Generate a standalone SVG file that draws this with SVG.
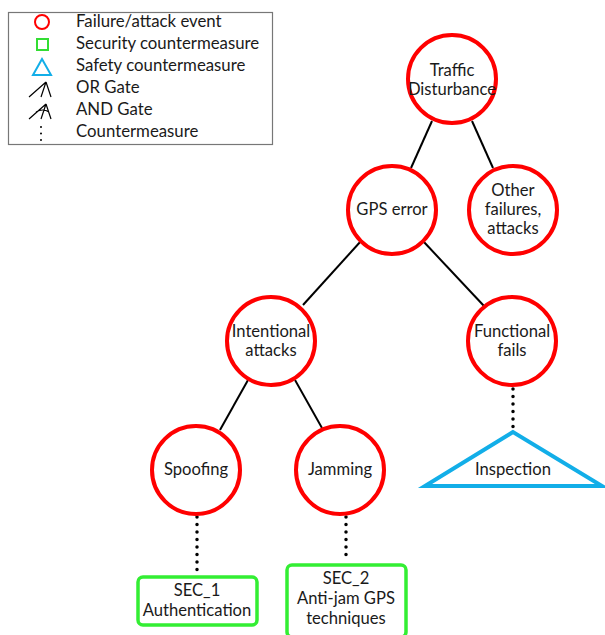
<svg xmlns="http://www.w3.org/2000/svg" width="605" height="635" viewBox="0 0 605 635">
  <style>
    text { font-family: Lato, "Open Sans", "Liberation Sans", sans-serif; fill: #1a1a1a; }
    .lbl { font-size: 16.6px; text-anchor: middle; }
    .leg { font-size: 16.8px; }
    .event { fill: #ffffff; stroke: #ff0000; stroke-width: 4; }
    .sec { fill: #ffffff; stroke: #33ee33; stroke-width: 3.5; }
    .safe { fill: #ffffff; stroke: #12aee8; stroke-width: 4; stroke-linejoin: miter; }
    .edge { stroke: #000000; stroke-width: 2; fill: none; }
    .cm { stroke: #000000; stroke-width: 3.5; stroke-linecap: round; stroke-dasharray: 0 7.5; fill: none; }
    .gate { stroke: #000000; stroke-width: 1.2; fill: none; }
  </style>
  <rect width="605" height="635" fill="#ffffff"/>

  <!-- legend -->
  <g id="legend">
    <rect x="8.5" y="12.5" width="264" height="132" fill="#ffffff" stroke="#777777" stroke-width="1.2"/>
    <circle cx="42" cy="22" r="7" fill="none" stroke="#ff0000" stroke-width="2"/>
    <rect x="37" y="39" width="11" height="11" fill="none" stroke="#33dd33" stroke-width="2"/>
    <polygon points="42,59 33,75 51,75" fill="none" stroke="#12aee8" stroke-width="2"/>
    <path class="gate" d="M46,82 L29,97 M46,82 L41,97 M46,82 L51,97"/>
    <path class="gate" d="M46,104 L29,119 M46,104 L41,119 M46,104 L51,119 M36,112 Q43,108 49,112"/>
    <path d="M41,127 L41,141" stroke="#000" stroke-width="2" stroke-linecap="round" stroke-dasharray="0 6.5" fill="none"/>
    <text class="leg" x="76" y="27">Failure/attack event</text>
    <text class="leg" x="76" y="49">Security countermeasure</text>
    <text class="leg" x="76" y="71">Safety countermeasure</text>
    <text class="leg" x="76" y="93">OR Gate</text>
    <text class="leg" x="76" y="115">AND Gate</text>
    <text class="leg" x="76" y="137">Countermeasure</text>
  </g>

  <!-- connectors -->
  <g id="connectors">
    <line class="edge" x1="432" y1="121" x2="411" y2="168"/>
    <line class="edge" x1="472" y1="121" x2="493" y2="168"/>
    <line class="edge" x1="361" y1="241" x2="303" y2="305"/>
    <line class="edge" x1="423" y1="241" x2="484" y2="306"/>
    <line class="edge" x1="248" y1="380" x2="220" y2="430"/>
    <line class="edge" x1="295" y1="380" x2="322" y2="428"/>
    <line class="cm" x1="197" y1="517" x2="197" y2="574"/>
    <line class="cm" x1="346" y1="517" x2="346" y2="562"/>
    <line class="cm" x1="513" y1="389" x2="513" y2="428"/>
  </g>

  <g id="traffic-disturbance">
    <circle class="event" cx="452" cy="79" r="44"/>
    <text class="lbl" x="452" y="76">Traffic</text>
    <text class="lbl" x="452" y="95">Disturbance</text>
  </g>
  <g id="gps-error">
    <circle class="event" cx="392" cy="210" r="44"/>
    <text class="lbl" x="392" y="215">GPS error</text>
  </g>
  <g id="other-failures">
    <circle class="event" cx="513" cy="210" r="44"/>
    <text class="lbl" x="513" y="196">Other</text>
    <text class="lbl" x="513" y="215">failures,</text>
    <text class="lbl" x="513" y="234">attacks</text>
  </g>
  <g id="intentional-attacks">
    <circle class="event" cx="271" cy="341" r="44"/>
    <text class="lbl" x="271" y="337">Intentional</text>
    <text class="lbl" x="271" y="356">attacks</text>
  </g>
  <g id="functional-fails">
    <circle class="event" cx="512" cy="341" r="44"/>
    <text class="lbl" x="512" y="337">Functional</text>
    <text class="lbl" x="512" y="356">fails</text>
  </g>
  <g id="spoofing">
    <circle class="event" cx="196" cy="470" r="44"/>
    <text class="lbl" x="196" y="475">Spoofing</text>
  </g>
  <g id="jamming">
    <circle class="event" cx="340" cy="470" r="44"/>
    <text class="lbl" x="340" y="475">Jamming</text>
  </g>
  <g id="inspection">
    <polygon class="safe" points="513,432 425,486 602,486"/>
    <text class="lbl" x="513" y="475">Inspection</text>
  </g>
  <g id="sec-1">
    <rect class="sec" x="138" y="577" width="119" height="48" rx="5"/>
    <text class="lbl" x="197" y="596">SEC_1</text>
    <text class="lbl" x="197" y="616">Authentication</text>
  </g>
  <g id="sec-2">
    <rect class="sec" x="287" y="565" width="119" height="72" rx="5"/>
    <text class="lbl" x="346" y="584">SEC_2</text>
    <text class="lbl" x="346" y="604">Anti-jam GPS</text>
    <text class="lbl" x="346" y="624">techniques</text>
  </g>
</svg>
